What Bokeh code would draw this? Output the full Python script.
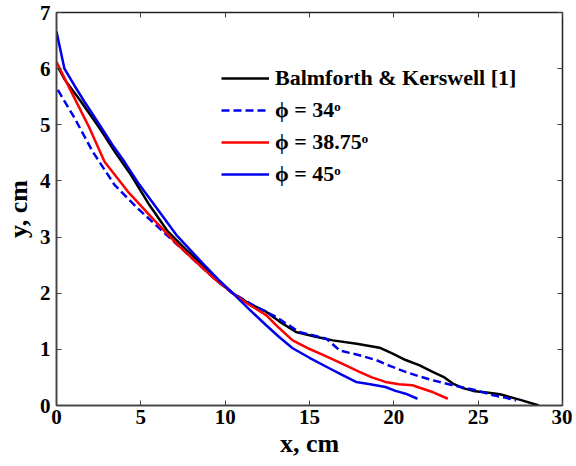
from bokeh.plotting import figure
from bokeh.models import Legend, LegendItem, LinearAxis, Range1d, FixedTicker
from bokeh.embed import file_html
from bokeh.resources import INLINE

# Balmforth & Kerswell [1]
bk_x = [0.1, 0.5, 1.46, 2.55, 3.5, 4.43, 5.51, 6.6, 7.6, 8.67, 9.5, 10.45, 11.4, 12.43, 13.3, 14.2,
        15.3, 16.38, 17.8, 19.15, 19.9, 20.7, 21.5, 22.3, 23.0, 23.5, 24.1, 24.7, 25.5, 26.3, 27.5, 28.6]
bk_y = [6.02, 5.8, 5.41, 4.94, 4.5, 4.1, 3.57, 3.1, 2.8, 2.5, 2.25, 2.0, 1.82, 1.67, 1.48, 1.31,
        1.23, 1.16, 1.1, 1.03, 0.93, 0.81, 0.72, 0.6, 0.5, 0.39, 0.31, 0.26, 0.23, 0.2, 0.1, 0.0]

# phi = 34
p34_x = [0.08, 1.07, 2.15, 3.44, 4.82, 6.3, 7.4, 8.48, 9.5, 10.45, 11.7, 13.0, 14.4, 15.2, 16.0, 16.8,
         17.9, 18.95, 19.8, 20.7, 21.5, 22.3, 23.5, 24.9, 25.9, 26.6, 27.25]
p34_y = [5.62, 5.12, 4.52, 3.93, 3.51, 3.1, 2.8, 2.5, 2.22, 2.0, 1.78, 1.58, 1.31, 1.25, 1.19, 0.98,
         0.9, 0.81, 0.7, 0.6, 0.52, 0.45, 0.36, 0.27, 0.18, 0.14, 0.09]

# phi = 38.75
p38_x = [0.0, 0.67, 1.96, 2.85, 4.23, 5.71, 7.19, 8.48, 9.5, 10.45, 11.4, 12.43, 13.2, 14.0, 14.9, 15.8,
         16.9, 17.96, 18.7, 19.5, 20.3, 21.1, 22.2, 23.2]
p38_y = [6.12, 5.71, 4.94, 4.34, 3.81, 3.33, 2.86, 2.5, 2.22, 2.0, 1.8, 1.61, 1.38, 1.16, 1.02, 0.9,
         0.75, 0.6, 0.5, 0.42, 0.38, 0.36, 0.25, 0.12]

# phi = 45
p45_x = [0.0, 0.47, 1.06, 1.66, 2.55, 3.3, 4.03, 4.92, 6.1, 7.1, 7.9, 8.77, 9.6, 10.45, 11.4, 12.43,
         13.2, 14.0, 15.0, 16.0, 16.9, 17.76, 18.6, 19.5, 20.1, 20.7, 21.4]
p45_y = [6.66, 6.0, 5.7, 5.41, 5.0, 4.65, 4.34, 3.93, 3.45, 3.04, 2.78, 2.5, 2.24, 2.0, 1.72, 1.43,
         1.22, 1.02, 0.85, 0.69, 0.55, 0.42, 0.38, 0.33, 0.26, 0.21, 0.12]

labels = ["Balmforth & Kerswell [1]", "\u03d5 = 34\u1d52", "\u03d5 = 38.75\u1d52", "\u03d5 = 45\u1d52"]
x_ticks = [0, 5, 10, 15, 20, 25, 30]
y_ticks = [0, 1, 2, 3, 4, 5, 6, 7]

FONT = "'Liberation Serif', 'Times New Roman', Times, serif"

p = figure(width=572, height=462, output_backend="svg", toolbar_location=None,
           x_range=Range1d(0, 30), y_range=Range1d(0, 7),
           min_border_left=55, min_border_right=10, min_border_top=12, min_border_bottom=57)
p.xgrid.visible = False
p.ygrid.visible = False
p.outline_line_color = "#222222"
p.outline_line_width = 1.5
p.background_fill_color = "white"
p.border_fill_color = "white"

r_bk = p.line(bk_x, bk_y, line_color="black", line_width=2.5)
r_34 = p.line(p34_x, p34_y, line_color="#0000ee", line_width=2.5, line_dash="8 4")
r_38 = p.line(p38_x, p38_y, line_color="#ff0000", line_width=2.5)
r_45 = p.line(p45_x, p45_y, line_color="#0000ee", line_width=2.5)

for ax, ticks in ((p.xaxis[0], x_ticks), (p.yaxis[0], y_ticks)):
    ax.ticker = FixedTicker(ticks=ticks)
    ax.major_tick_in = 5
    ax.major_tick_out = 0
    ax.minor_tick_in = 0
    ax.minor_tick_out = 0
    ax.axis_line_color = "#444444"
    ax.axis_line_width = 1.5
    ax.major_tick_line_color = "#444444"
    ax.major_label_text_font = FONT
    ax.major_label_text_font_style = "bold"
    ax.major_label_text_font_size = "21px"
    ax.major_label_text_color = "black"
    ax.axis_label_text_font = FONT
    ax.axis_label_text_font_style = "bold"
    ax.axis_label_text_font_size = "26px"
    ax.axis_label_text_color = "black"

p.xaxis[0].axis_label = "x, cm"
p.yaxis[0].axis_label = "y, cm"
p.xaxis[0].major_label_standoff = 4
p.yaxis[0].major_label_standoff = 6
p.xaxis[0].axis_label_standoff = 2
p.yaxis[0].axis_label_standoff = 4

# mirrored ticks on top and right (box style)
for loc, ticks in (("right", y_ticks), ("above", x_ticks)):
    ax = LinearAxis(ticker=FixedTicker(ticks=ticks), major_tick_in=5, major_tick_out=0,
                    minor_tick_in=0, minor_tick_out=0, major_label_text_font_size="0px",
                    axis_line_color=None, major_tick_line_color="#444444")
    ax.major_label_text_alpha = 0
    p.add_layout(ax, loc)

legend = Legend(items=[LegendItem(label=labels[0], renderers=[r_bk]),
                       LegendItem(label=labels[1], renderers=[r_34]),
                       LegendItem(label=labels[2], renderers=[r_38]),
                       LegendItem(label=labels[3], renderers=[r_45])],
                location=(165, 218), padding=0, margin=0, spacing=6,
                glyph_width=48, glyph_height=22, label_height=22, label_standoff=6,
                border_line_alpha=0, background_fill_alpha=0,
                label_text_font=FONT, label_text_font_style="bold",
                label_text_font_size="22px", label_text_color="black")
p.add_layout(legend)

open("out.html", "w").write(file_html(p, INLINE))
